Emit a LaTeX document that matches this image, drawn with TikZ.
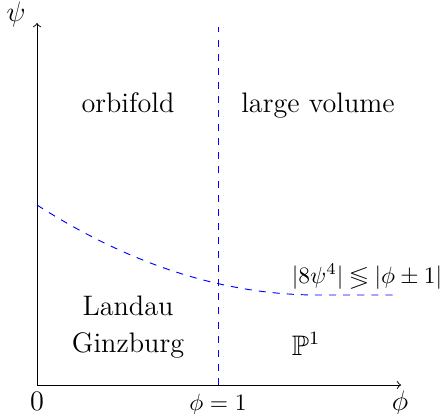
\documentclass[tikz,border=0pt]{standalone}
\usepackage{amssymb}
\begin{document}
\begin{tikzpicture}[x=0.4255pt,y=-0.4255pt,
  axisline/.style={->,line width=0.4pt},
  bdash/.style={blue,dashed,line width=0.4pt},
  lab/.style={font=\large,anchor=base,inner sep=0pt}]
\useasboundingbox (0,0) rectangle (442,414);
\coordinate (O) at (37,385);
\coordinate (X) at (401,385);
\coordinate (Y) at (37,23);
\coordinate (vt) at (218,27);
\coordinate (vb) at (218,385);
\coordinate (c0) at (37,205);
\coordinate (c1) at (318,295);
\coordinate (c2) at (395,295);
\draw[axisline] (O) -- (X);
\draw[axisline] (O) -- (Y);
\draw[bdash] (vb) -- (vt);
\draw[bdash] (c0) .. controls (130.7,265) and (224.3,295) .. (c1) -- (c2);
\node[lab] (psi) at (16,22) {$\psi$};
\node[lab] (zero) at (37,410) {0};
\node[anchor=base,inner sep=0pt] (phione) at (218,410) {$\phi=1$};
\node[lab] (phi) at (400,410) {$\phi$};
\node[lab] (orb) at (128,113) {orbifold};
\node[lab] (lv) at (318,113) {large volume};
\node[lab] (landau) at (128,315) {Landau};
\node[lab] (ginz) at (128,352) {Ginzburg};
\node[lab] (pone) at (306,355) {$\mathbb{P}^1$};
\node[anchor=base,inner sep=0pt] (ineq) at (367,283) {$|8\psi^4|\lessgtr|\phi\pm1|$};
\end{tikzpicture}
\end{document}
